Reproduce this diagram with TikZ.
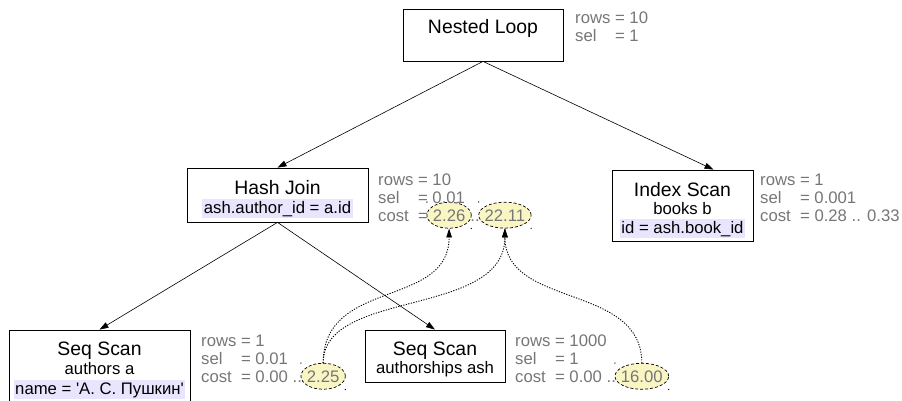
\documentclass[tikz,border=0pt]{standalone}
\usepackage{fontspec}
\setmainfont{Liberation Sans}
\usetikzlibrary{arrows.meta,calc,backgrounds}
\definecolor{statgray}{RGB}{118,118,118}
\definecolor{hl}{RGB}{234,229,255}
\definecolor{valfill}{RGB}{250,246,196}
\newcommand\statlab[1]{\rlap{#1}\phantom{rows}}
\begin{document}
\begin{tikzpicture}[x=1pt,y=-1pt,
  box/.style={draw=black, line width=0.8pt, inner sep=0pt},
  ttl/.style={font=\fontsize{19.4}{22}\selectfont, inner sep=0pt, anchor=base},
  sub/.style={font=\fontsize{16.7}{19}\selectfont, inner sep=0pt, anchor=base},
  hlt/.style={sub, fill=hl, inner xsep=1.5pt, inner ysep=1.5pt, text height=12.5pt, text depth=3.5pt},
  st/.style={font=\fontsize{16.7}{19}\selectfont, text=statgray, inner sep=0pt, anchor=base west},
  val/.style={font=\fontsize{16.7}{19}\selectfont, text=statgray, inner xsep=5.75pt, inner ysep=0pt, minimum height=26pt, anchor=base west},
  ell/.style={draw=black, dash pattern=on 3pt off 2pt, fill=valfill, line width=0.7pt},
  edge/.style={-{Triangle[length=9pt,width=6pt]}, line width=0.6pt},
  dep/.style={dash pattern=on 1.2pt off 1.4pt, line width=0.9pt, -{Triangle[length=9pt,width=5.5pt]}}
]
\useasboundingbox (0,0) rectangle (902,401);

% Nested Loop
\node[box, minimum width=160, minimum height=52] (nl) at (483,35) {};
\node[ttl] (nlt) at (483,34) {Nested Loop};
\node[st] (nlr) at (575,24) {\statlab{rows} = 10};
\node[st] (nls) at (575,42) {\statlab{sel} = 1};

% Hash Join
\node[box, minimum width=181, minimum height=54] (hj) at (277.5,195) {};
\node[ttl] (hjt) at (277.5,194) {Hash Join};
\node[hlt] (hjc) at (277.5,213) {ash.author\_id = a.id};
\node[st] (hjr) at (378,185) {\statlab{rows} = 10};
\node[st] (hjs) at (378,203) {\statlab{sel} = 0.01};
\node[st] (hjk) at (378,221) {\statlab{cost} =};
\node[val] (v226) at ([xshift=-1.15pt]hjk.base east) {2.26};
\node[st] (hjd) at ([xshift=-1.15pt]v226.base east) {..};
\node[val] (v2211) at ([xshift=-1.15pt]hjd.base east) {22.11};

% Index Scan
\node[box, minimum width=141, minimum height=71] (is) at (682.5,205.5) {};
\node[ttl] (ist) at (682.5,196) {Index Scan};
\node[sub] (isb) at (682.5,214) {books b};
\node[hlt] (isc) at (682.5,233) {id = ash.book\_id};
\node[st] (isr) at (760,185) {\statlab{rows} = 1};
\node[st] (iss) at (760,203) {\statlab{sel} = 0.001};
\node[st] (isk) at (760,221) {\statlab{cost} = 0.28 .. 0.33};

% Seq Scan authors a
\node[box, minimum width=181, minimum height=76] (ssa) at (99.5,368) {};
\node[ttl] (ssat) at (99.5,355) {Seq Scan};
\node[sub] (ssab) at (99.5,374) {authors a};
\node[hlt] (ssac) at (99.5,394) {name = \textquotesingle А. С. Пушкин\textquotesingle};
\node[st] (ssar) at (201,346) {\statlab{rows} = 1};
\node[st] (ssas) at (201,364) {\statlab{sel} = 0.01};
\node[st] (ssak) at (201,382) {\statlab{cost} = 0.00 ..};
\node[val] (v225) at ([xshift=-1.15pt]ssak.base east) {2.25};

% Seq Scan authorships ash
\node[box, minimum width=140, minimum height=52] (ssh) at (435,356) {};
\node[ttl] (ssht) at (435,355) {Seq Scan};
\node[sub] (sshb) at (435,373) {authorships ash};
\node[st] (sshr) at (515,346) {\statlab{rows} = 1000};
\node[st] (sshs) at (515,364) {\statlab{sel} = 1};
\node[st] (sshk) at (515,382) {\statlab{cost} = 0.00 ..};
\node[val] (v1600) at ([xshift=-1.15pt]sshk.base east) {16.00};

% value ellipses
\begin{pgfonlayer}{background}
\foreach \v in {v226,v2211,v225,v1600}{
  \draw[ell] let \p1=($(\v.east)-(\v.west)$) in (\v.center) ellipse [x radius=0.5*\x1, y radius=13pt];
  \fill (\v.north west) circle (0.7pt);
  \fill (\v.south east) circle (0.7pt);
}
\end{pgfonlayer}

% plan edges
\draw[edge] (nl.south) -- (hj.north);
\draw[edge] (nl.south) -- ([xshift=31pt]is.north);
\draw[edge] (hj.south) -- (ssa.north);
\draw[edge] (hj.south) -- (ssh.north);

% cost dependencies
\draw[dep] (v225.north) .. controls +(0,-85) and +(0,80) .. (v226.south);
\draw[dep] (v225.north) .. controls +(0,-75) and +(0,90) .. (v2211.south);
\draw[dep] (v1600.north) .. controls +(0,-80) and +(0,80) .. (v2211.south);
\end{tikzpicture}
\end{document}
